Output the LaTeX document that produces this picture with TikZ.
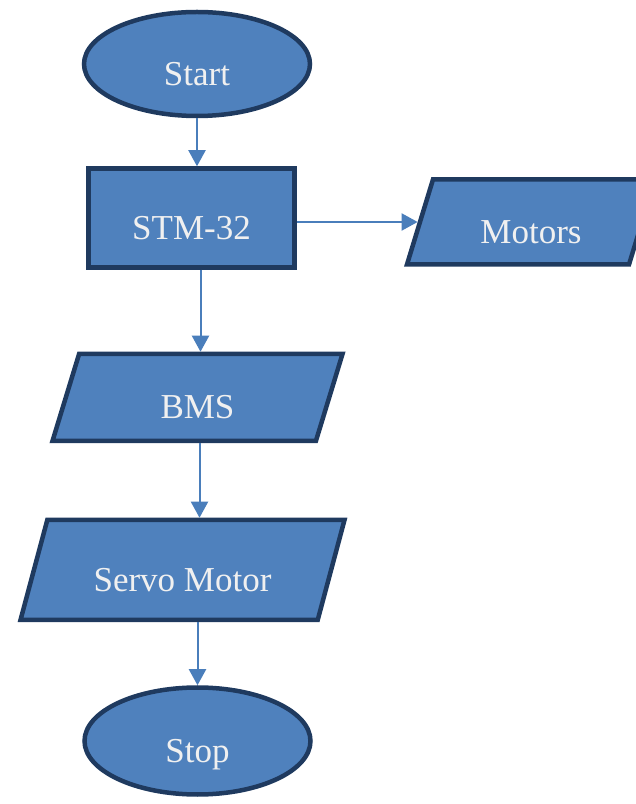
\documentclass[tikz,border=0pt]{standalone}
\usepackage{fontspec}
\setmainfont{Liberation Serif}
\usepackage{tikz}
\usetikzlibrary{shapes.geometric, positioning, arrows.meta}
\definecolor{boxblue}{HTML}{4F81BD}
\definecolor{boxedge}{HTML}{1F3A5F}
\definecolor{flowblue}{HTML}{4A7EBB}
\tikzset{
    x=1pt, y=1pt, % one unit is one pixel of the sketch
    block/.style={draw=boxedge, line width=4.5pt, fill=boxblue, text=white!94!black,
        font=\fontsize{35}{40}\selectfont, text height=43pt, text depth=0pt}, % common look of every shape
    terminal/.style={block, ellipse, minimum width=226, minimum height=104},
    process/.style={block, rectangle, minimum width=206, minimum height=99},
    io/.style={block, trapezium, trapezium left angle=73, trapezium right angle=107,
        trapezium stretches body}, % slanted input/output box
    flow/.style={-{Triangle[width=17pt,length=16pt]}, draw=flowblue, line width=2pt}, % the connectors
}
\begin{document}
\begin{tikzpicture}
        \useasboundingbox (0,0) rectangle (636,804);
        \node[terminal] (start) at (197,740) {Start};
        \node[process] (stm) at (191.5,586) {STM-32};
        \node[io, minimum width=248, inner ysep=21pt] (motors) at (531,582) {Motors};
        \node[io, minimum width=290, inner ysep=22pt] (bms) at (197.5,406.5) {BMS};
        \node[io, minimum width=324, inner ysep=28.5pt, trapezium left angle=75,
            trapezium right angle=105] (servo) at (182.5,234) {Servo Motor};
        \node[terminal, minimum height=107] (stop) at (197.5,63) {Stop};
        % connectors
        \draw[flow] (start.south) -- (start.south |- stm.north);
        \draw[flow] ([yshift=-4pt]stm.east) -- ([yshift=-4pt]stm.east -| motors.west);
        \draw[flow] ([xshift=9pt]stm.south) -- ([xshift=9pt]stm.south |- bms.north);
        \draw[flow] ([xshift=2pt]bms.south) -- ([xshift=2pt]bms.south |- servo.north);
        \draw[flow] (stop.north |- servo.south) -- (stop.north);
    \end{tikzpicture}
\end{document}
